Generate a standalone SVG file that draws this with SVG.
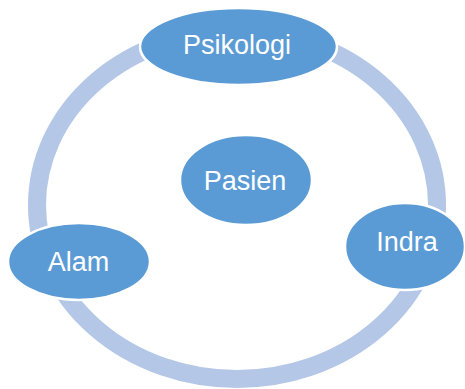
<svg xmlns="http://www.w3.org/2000/svg" width="465" height="389" viewBox="0 0 465 389">
<style>
.node{fill:#5B9BD5;stroke:#FFFFFF;stroke-width:2.5}
.lbl{font-family:"Liberation Sans",Arial,sans-serif;font-size:27px;fill:#FFFFFF;text-anchor:middle}
.ring{fill:none;stroke:#B4C7E7;stroke-width:18}
</style>
<rect width="465" height="389" fill="#FFFFFF"/>
<g id="connectors">
<ellipse class="ring" cx="237" cy="205" rx="200" ry="174"/>
</g>
<g id="psikologi">
<ellipse class="node" cx="238.5" cy="46.5" rx="98.5" ry="38.5"/>
<text class="lbl" x="237" y="54">Psikologi</text>
</g>
<g id="pasien">
<ellipse class="node" cx="246" cy="180" rx="66" ry="45"/>
<text class="lbl" x="245" y="190">Pasien</text>
</g>
<g id="indra">
<ellipse class="node" cx="405" cy="246.5" rx="60" ry="43.5"/>
<text class="lbl" x="407" y="251">Indra</text>
</g>
<g id="alam">
<ellipse class="node" cx="79" cy="261.5" rx="71" ry="38.5"/>
<text class="lbl" x="78.5" y="271">Alam</text>
</g>
</svg>
